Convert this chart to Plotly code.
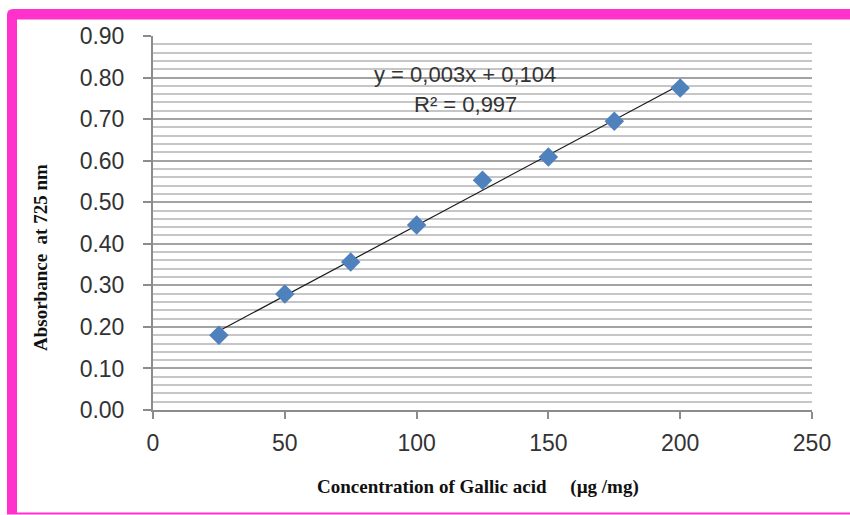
import numpy as np
import plotly.graph_objects as go

# Data
concentration = [25, 50, 75, 100, 125, 150, 175, 200]
absorbance = [0.180, 0.279, 0.356, 0.445, 0.553, 0.609, 0.695, 0.775]
y_ticks = [0.0, 0.1, 0.2, 0.3, 0.4, 0.5, 0.6, 0.7, 0.8, 0.9]
y_tick_labels = ["0.00", "0.10", "0.20", "0.30", "0.40", "0.50", "0.60", "0.70", "0.80", "0.90"]
x_ticks = [0, 50, 100, 150, 200, 250]
equation_text = "y = 0,003x + 0,104"
r2_text = "R² = 0,997"

W, H = 850, 515
L, R, T, B = 153, 38, 36, 105
pw, ph = W - L - R, H - T - B

def px(x):
    return (x - L) / pw

def py(y):
    return 1 - (y - T) / ph

# Linear trendline from data
slope, intercept = np.polyfit(concentration, absorbance, 1)
tx = [concentration[0], concentration[-1]]
ty = [slope * v + intercept for v in tx]

fig = go.Figure()
fig.add_trace(go.Scatter(x=tx, y=ty, mode="lines",
                         line=dict(color="#1a1a1a", width=1.2),
                         hoverinfo="skip", showlegend=False))
fig.add_trace(go.Scatter(x=concentration, y=absorbance, mode="markers",
                         marker=dict(symbol="diamond", size=15, color="#4f81bd",
                                     line=dict(width=0)),
                         showlegend=False))

tick_font = dict(family="Liberation Sans, Arial, sans-serif", size=23, color="#333333")

fig.update_xaxes(range=[0, 250], tickvals=x_ticks, showgrid=False,
                 showline=True, linecolor="#8c8c8c", linewidth=2,
                 ticks="outside", ticklen=7, tickcolor="#8c8c8c", tickwidth=2,
                 ticklabelstandoff=4,
                 tickfont=tick_font, zeroline=False, fixedrange=True)
fig.update_yaxes(range=[0, 0.9], tickvals=y_ticks, ticktext=y_tick_labels,
                 showgrid=True, gridcolor="#a3a3a3", gridwidth=2,
                 minor=dict(dtick=0.02, showgrid=True, gridcolor="#c6c6c6", gridwidth=2),
                 showline=True, linecolor="#8c8c8c", linewidth=2,
                 ticks="outside", ticklen=8, tickcolor="#8c8c8c", tickwidth=2,
                 ticklabelstandoff=14,
                 tickfont=tick_font, zeroline=False, fixedrange=True)

ann_font = dict(family="Liberation Sans, Arial, sans-serif", size=22, color="#333333")
title_font = dict(family="Liberation Serif, Times New Roman, serif", size=19, color="#111111")

annotations = [
    dict(x=118.4, y=0.808, xref="x", yref="y", text=equation_text, showarrow=False,
         font=ann_font, xanchor="center", yanchor="middle"),
    dict(x=118.4, y=0.736, xref="x", yref="y", text=r2_text, showarrow=False,
         font=ann_font, xanchor="center", yanchor="middle"),
    dict(x=px(478), y=py(487), xref="paper", yref="paper",
         text="<b>Concentration of Gallic acid\u00a0\u00a0\u00a0\u00a0\u00a0(µg /mg)</b>",
         showarrow=False, font=title_font, xanchor="center", yanchor="middle"),
    dict(x=px(40), y=py(258), xref="paper", yref="paper",
         text="<b>Absorbance\u00a0\u00a0at 725 nm</b>", textangle=-90,
         showarrow=False, font=title_font, xanchor="center", yanchor="middle"),
]

mag = "#ff33cc"
shapes = [
    dict(type="path", xref="paper", yref="paper",
         path=(f"M {px(7)},{py(514)} L {px(7)},{py(15)} "
               f"Q {px(7)},{py(9)} {px(13)},{py(9)} L {px(850)},{py(9)} "
               f"L {px(850)},{py(19.5)} L {px(17)},{py(19.5)} L {px(17)},{py(514)} Z"),
         fillcolor=mag, line=dict(width=0), layer="above"),
    dict(type="rect", xref="paper", yref="paper",
         x0=px(7), x1=px(850), y0=py(514.5), y1=py(512.5),
         fillcolor=mag, line=dict(width=0), layer="above"),
]

fig.update_layout(width=W, height=H, margin=dict(l=L, r=R, t=T, b=B),
                  paper_bgcolor="white", plot_bgcolor="white",
                  annotations=annotations, shapes=shapes, showlegend=False)

fig.write_html("out.html")
